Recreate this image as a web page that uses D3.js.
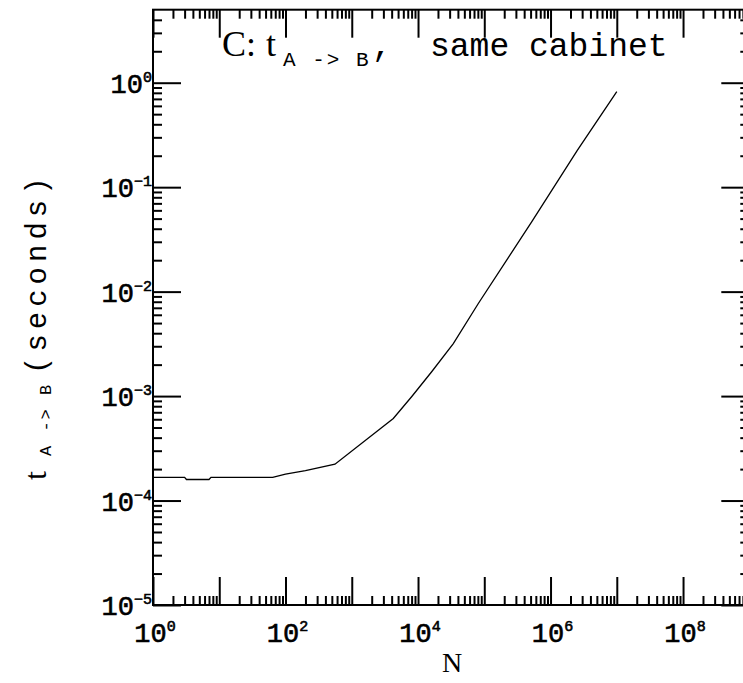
<!DOCTYPE html>
<html>
<head>
<meta charset="utf-8">
<script src="https://cdn.jsdelivr.net/npm/d3@7"></script>
<style>
  body { margin: 0; background: #fff; }
  svg { display: block; }
  .tick line { stroke: #000; stroke-width: 2; }
  .lbl { font-family: "Liberation Mono", "DejaVu Sans Mono", monospace; fill: #000; }
  .num { stroke: #000; stroke-width: 0.6; }
  .serif { font-family: "Liberation Serif", "DejaVu Serif", serif; }
</style>
</head>
<body>
<div id="chart"></div>
<script>
// curve: N (points) vs t_A->B (seconds)
var nValues = [1, 3, 3.2, 7, 7.5, 64, 100, 200, 558, 4236, 8000, 16070, 34100, 81300, 519000, 2535000, 10000000];
var tValues = [1.67e-4, 1.67e-4, 1.59e-4, 1.59e-4, 1.67e-4, 1.67e-4, 1.79e-4, 1.93e-4, 2.23e-4, 6.1e-4, 9.86e-4, 1.71e-3, 3.18e-3, 7.7e-3, 0.0465, 0.225, 0.82];

var xLabelExps = [0, 2, 4, 6, 8];
var yLabelExps = [0, -1, -2, -3, -4, -5];

var width = 743, height = 683;
var plotL = 153, plotR = 749.3, plotT = 9.7, plotB = 605;
var majorLen = 28, minorLen = 9;

var svg = d3.select('#chart').append('svg')
    .attr('width', width)
    .attr('height', height);

var x = d3.scaleLog().domain([1, 1e9]).range([plotL, plotR]);
var y = d3.scaleLog().domain([1e-5, 5]).range([plotB, plotT]);

var xMajor = d3.range(0, 10).map(function(e) { return Math.pow(10, e); });
var xMinor = [];
d3.range(0, 9).forEach(function(e) {
    for (var k = 2; k <= 9; k++) xMinor.push(k * Math.pow(10, e));
});
var yMajor = d3.range(-5, 1).map(function(e) { return Math.pow(10, e); });
var yMinor = [];
d3.range(-5, 1).forEach(function(e) {
    for (var k = 2; k <= 9; k++) {
        var v = k * Math.pow(10, e);
        if (v < 5) yMinor.push(v);
    }
});

function tickAxis(axisFn, scale, values, size, transform) {
    var g = svg.append('g')
        .attr('transform', transform)
        .call(axisFn(scale).tickValues(values).tickSize(size).tickSizeOuter(0).tickFormat(''));
    g.select('.domain').remove();
}

// ticks point inward on all four sides
tickAxis(d3.axisBottom, x, xMajor, -majorLen, 'translate(0,' + plotB + ')');
tickAxis(d3.axisBottom, x, xMinor, -minorLen, 'translate(0,' + plotB + ')');
tickAxis(d3.axisTop, x, xMajor, -majorLen, 'translate(0,' + plotT + ')');
tickAxis(d3.axisTop, x, xMinor, -minorLen, 'translate(0,' + plotT + ')');
tickAxis(d3.axisLeft, y, yMajor, -majorLen, 'translate(' + plotL + ',0)');
tickAxis(d3.axisLeft, y, yMinor, -minorLen, 'translate(' + plotL + ',0)');
tickAxis(d3.axisRight, y, yMajor, -majorLen, 'translate(' + plotR + ',0)');
tickAxis(d3.axisRight, y, yMinor, -minorLen, 'translate(' + plotR + ',0)');

svg.append('rect')
    .attr('x', plotL).attr('y', plotT)
    .attr('width', plotR - plotL).attr('height', plotB - plotT)
    .attr('fill', 'none')
    .attr('stroke', '#000')
    .attr('stroke-width', 2);

var line = d3.line()
    .x(function(d) { return x(d[0]); })
    .y(function(d) { return y(d[1]); });

svg.append('path')
    .datum(nValues.map(function(n, i) { return [n, tValues[i]]; }))
    .attr('d', line)
    .attr('fill', 'none')
    .attr('stroke', '#000')
    .attr('stroke-width', 1.3);

function powerLabel(sel, exp) {
    sel.append('tspan').text('10');
    sel.append('tspan')
        .attr('dy', -11)
        .attr('font-size', 15)
        .text(exp < 0 ? '\u2212' + (-exp) : exp);
}

xLabelExps.forEach(function(e) {
    var t = svg.append('text')
        .attr('class', 'lbl num')
        .attr('x', x(Math.pow(10, e)) + 2)
        .attr('y', 642)
        .attr('font-size', 27)
        .attr('text-anchor', 'middle');
    powerLabel(t, e);
});

yLabelExps.forEach(function(e) {
    var t = svg.append('text')
        .attr('class', 'lbl num')
        .attr('x', 152)
        .attr('y', y(Math.pow(10, e)) + 10)
        .attr('font-size', 27)
        .attr('text-anchor', 'end');
    powerLabel(t, e);
});

// title
var title = svg.append('text')
    .attr('class', 'lbl')
    .attr('y', 56)
    .attr('font-size', 33);
title.append('tspan').attr('class', 'serif').attr('x', 222).attr('font-size', 36).text('C:');
title.append('tspan').attr('class', 'serif').attr('x', 266).attr('font-size', 36).text('t');
title.append('tspan').attr('x', 283).attr('dy', 10).attr('font-size', 21)
    .attr('letter-spacing', 2).text('A -> B');
title.append('tspan').attr('x', 372).attr('dy', -10).text(',');
title.append('tspan').attr('x', 430).text('same cabinet');

svg.append('text')
    .attr('class', 'lbl serif')
    .attr('x', 452)
    .attr('y', 672)
    .attr('font-size', 28)
    .attr('text-anchor', 'middle')
    .text('N');

var yLab = svg.append('text')
    .attr('class', 'lbl')
    .attr('transform', 'translate(46,480)rotate(-90)')
    .attr('font-size', 29);
yLab.append('tspan').attr('class', 'serif').attr('x', 0).attr('font-size', 32).text('t');
yLab.append('tspan').attr('x', 24).attr('dy', 5).attr('font-size', 17)
    .attr('letter-spacing', 2).text('A -> B');
yLab.append('tspan').attr('x', 106).attr('dy', -5)
    .attr('letter-spacing', 5).text('(seconds)');
</script>
</body>
</html>
